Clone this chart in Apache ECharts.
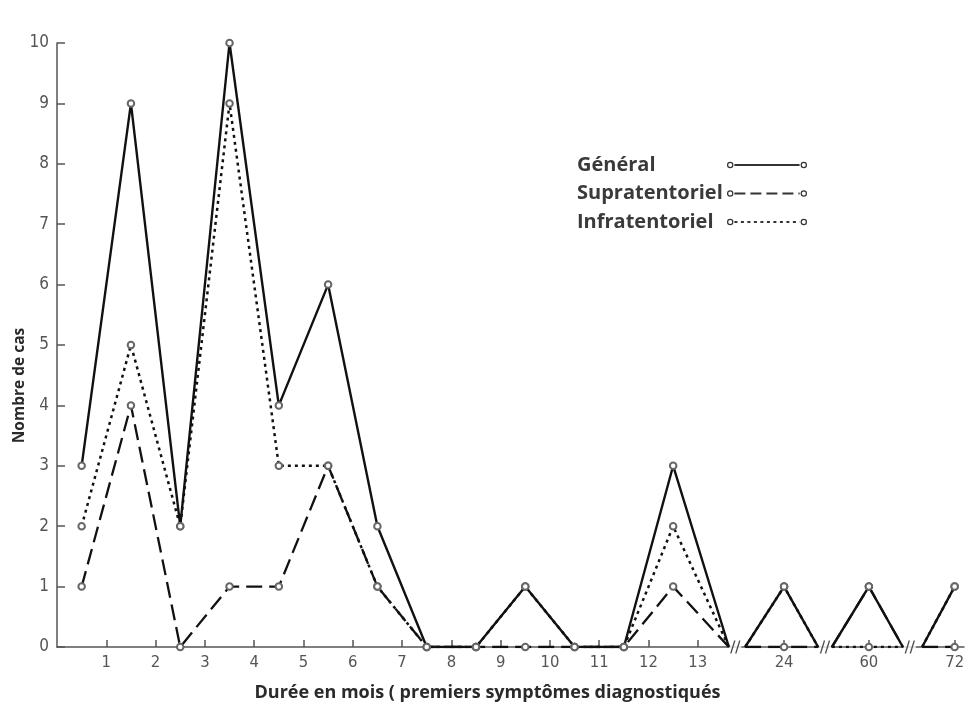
<!DOCTYPE html>
<html>
<head>
<meta charset="utf-8">
<script src="https://cdn.jsdelivr.net/npm/echarts@6/dist/echarts.min.js"></script>
<style>
  html, body { margin: 0; padding: 0; background: #fff; }
  #chart { width: 965px; height: 706px; }
</style>
</head>
<body>
<div id="chart"></div>
<script>
// ---- Data ----
// Tick labels on the duration axis (months); after 13 the axis is broken.
const tickLabels = ['1','2','3','4','5','6','7','8','9','10','11','12','13','24','60','72'];
// Position of each tick on the (broken) axis scale
const tickPos = [1,2,3,4,5,6,7,8,9,10,11,12,13,14.75,16.47,18.21];
// Position of each plotted point on the axis scale (mid-month for 0-13, then 24, 60, 72)
const pointPos = [0.5,1.5,2.5,3.5,4.5,5.5,6.5,7.5,8.5,9.5,10.5,11.5,12.5,14.75,16.47,18.21];
const seriesNames = ['Général', 'Supratentoriel', 'Infratentoriel'];
const general = [3, 9, 2, 10, 4, 6, 2, 0, 0, 1, 0, 0, 3, 1, 1, 1];
const supra   = [1, 4, 0, 1,  1, 3, 1, 0, 0, 0, 0, 0, 1, 0, 1, 0];
const infra   = [2, 5, 2, 9,  3, 3, 1, 0, 0, 1, 0, 0, 2, 1, 0, 1];
// Axis breaks: where the curves drop to 0 before a break, the break itself, and where they restart at 0
const segEnd   = [13.63, 15.44, 17.16];
const breakPos = [13.76, 15.58, 17.30];
const segStart = [13.96, 15.72, 17.55];

// ---- Build line data with breaks ----
function buildData(vals) {
  const d = [];
  for (let i = 0; i <= 12; i++) d.push([pointPos[i], vals[i]]);
  for (let b = 0; b < 3; b++) {
    d.push({ value: [segEnd[b], 0], symbol: 'none' });
    d.push([breakPos[b], '-']);
    d.push({ value: [segStart[b], 0], symbol: 'none' });
    d.push([pointPos[13 + b], vals[13 + b]]);
  }
  return d;
}

// Legend icon: ring - line (dash pattern) - ring
function legendIcon(dash, gap) {
  const W = 80, r = 3.2, ri = 2.0, cy = 3.2, t = 1.0;
  function ring(cx) {
    return 'M' + (cx - r) + ',' + cy + ' A' + r + ',' + r + ' 0 1,1 ' + (cx + r) + ',' + cy +
           ' A' + r + ',' + r + ' 0 1,1 ' + (cx - r) + ',' + cy + ' Z ' +
           'M' + (cx - ri) + ',' + cy + ' A' + ri + ',' + ri + ' 0 1,0 ' + (cx + ri) + ',' + cy +
           ' A' + ri + ',' + ri + ' 0 1,0 ' + (cx - ri) + ',' + cy + ' Z ';
  }
  let p = ring(r) + ring(W - r);
  const x0 = 2 * r + 1, x1 = W - 2 * r - 1;
  let x = x0;
  if (!gap) {
    p += 'M' + x0 + ',' + (cy - t) + ' L' + x1 + ',' + (cy - t) + ' L' + x1 + ',' + (cy + t) + ' L' + x0 + ',' + (cy + t) + ' Z ';
  } else {
    while (x < x1) {
      const e = Math.min(x + dash, x1);
      p += 'M' + x + ',' + (cy - t) + ' L' + e + ',' + (cy - t) + ' L' + e + ',' + (cy + t) + ' L' + x + ',' + (cy + t) + ' Z ';
      x = e + gap;
    }
  }
  return 'path://' + p;
}

const numFont = '"Liberation Sans Narrow", "DejaVu Sans Condensed", "Liberation Sans", sans-serif';
const titleFont = '"Open Sans", "Noto Sans", sans-serif';
const axisColor = '#555';

function lineSeries(name, vals, type, width) {
  return {
    name: name,
    type: 'line',
    data: buildData(vals),
    symbol: 'emptyCircle',
    symbolSize: 6.5,
    showSymbol: true,
    connectNulls: false,
    z: 3,
    itemStyle: { color: '#666', borderWidth: 1.3 },
    lineStyle: { color: '#111', width: width, type: type },
    emphasis: { disabled: true }
  };
}

const chart = echarts.init(document.getElementById('chart'), null, { renderer: 'canvas' });
chart.setOption({
  animation: false,
  backgroundColor: '#fff',
  grid: { left: 57, top: 43, bottom: 59, right: 1, containLabel: false, outerBoundsMode: 'none' },
  legend: {
    orient: 'vertical',
    left: 577,
    top: 155,
    padding: 0,
    align: 'right',
    itemWidth: 80,
    itemHeight: 6.4,
    itemGap: 8.5,
    selectedMode: false,
    itemStyle: { color: '#333', borderWidth: 0 },
    formatter: '{n|{name}}',
    textStyle: {
      rich: { n: { width: 145, align: 'left', fontSize: 20, lineHeight: 22, fontWeight: 'bold', color: '#3a3a3a', fontFamily: titleFont } }
    },
    data: [
      { name: seriesNames[0], icon: legendIcon(0, 0) },
      { name: seriesNames[1], icon: legendIcon(11, 5) },
      { name: seriesNames[2], icon: legendIcon(3, 3.5) }
    ]
  },
  xAxis: {
    type: 'value',
    min: 0,
    max: 18.4,
    name: 'Durée en mois ( premiers symptômes diagnostiqués',
    nameLocation: 'middle',
    nameGap: 37,
    nameMoveOverlap: false,
    nameTextStyle: { fontSize: 18, fontWeight: 'bold', color: '#2a2a2a', fontFamily: titleFont, padding: [0, 46, 0, 0] },
    axisLine: { show: true, lineStyle: { color: axisColor, width: 1.5 } },
    axisTick: { show: true, inside: true, length: 7, customValues: tickPos, lineStyle: { color: axisColor, width: 1.5 } },
    axisLabel: {
      customValues: tickPos,
      formatter: function (v) {
        for (let i = 0; i < tickPos.length; i++) if (Math.abs(tickPos[i] - v) < 1e-6) return tickLabels[i];
        return '';
      },
      margin: 7,
      fontSize: 16.5,
      color: '#555',
      fontFamily: numFont
    },
    splitLine: { show: false }
  },
  yAxis: {
    type: 'value',
    min: 0,
    max: 10,
    interval: 1,
    name: 'Nombre de cas',
    nameLocation: 'middle',
    nameGap: 29,
    nameMoveOverlap: false,
    nameTextStyle: { fontSize: 15.5, fontWeight: 'bold', color: '#2a2a2a', fontFamily: titleFont, padding: [0, 81, 0, 0] },
    axisLine: { show: true, lineStyle: { color: axisColor, width: 1.5 } },
    axisTick: { show: true, inside: true, length: 8, lineStyle: { color: axisColor, width: 1.5 } },
    axisLabel: { margin: 8, fontSize: 17, color: '#555', fontFamily: numFont },
    splitLine: { show: false }
  },
  series: [
    lineSeries(seriesNames[0], general, 'solid', 2.4),
    lineSeries(seriesNames[1], supra, [16, 7], 2.3),
    lineSeries(seriesNames[2], infra, [3, 4], 2.5),
    {
      name: 'gap', type: 'scatter', silent: true, z: 1,
      data: breakPos.map(function (x) { return [x, 0]; }),
      symbol: 'rect', symbolSize: [12, 5],
      itemStyle: { color: '#fff' }
    },
    {
      name: 'breakMark', type: 'scatter', silent: true, z: 4,
      data: breakPos.map(function (x) { return [x, 0]; }),
      symbol: 'path://M0,12 L4,0 L5.4,0 L1.4,12 Z M5,12 L9,0 L10.4,0 L6.4,12 Z',
      symbolSize: [10.4, 13],
      itemStyle: { color: '#222' }
    }
  ]
});
</script>
</body>
</html>
